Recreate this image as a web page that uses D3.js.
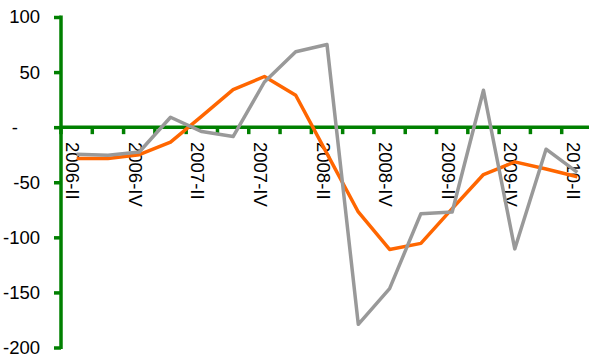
<!DOCTYPE html>
<html>
<head>
<meta charset="utf-8">
<script src="https://cdn.jsdelivr.net/npm/d3@7"></script>
<style>
  html, body { margin: 0; padding: 0; background: #fff; }
  svg { display: block; }
  text { font-family: "Liberation Sans", Arial, sans-serif; fill: #000; }
</style>
</head>
<body>
<svg id="chart" width="589" height="357"></svg>
<script>
// ---- data ----
const categories = ["2006-II","2006-III","2006-IV","2007-I","2007-II","2007-III","2007-IV",
  "2008-I","2008-II","2008-III","2008-IV","2009-I","2009-II","2009-III","2009-IV","2010-I","2010-II"];
const seriesOrange = [-28.5, -28.5, -25, -13.5, 10, 34, 46, 29, -24, -77, -111, -105.5, -74, -43, -31.5, -38, -45];
const seriesGray = [-24.5, -25.5, -22.5, 9, -4, -8.5, 41, 68.5, 75, -179, -146.5, -78.5, -77, 33.5, -110.5, -20, -41];
const yTicks = [100, 50, 0, -50, -100, -150, -200];
const labeledCategories = categories.filter((d, i) => i % 2 === 0);

// ---- layout ----
const svg = d3.select("#chart");
const green = "#008000";
const x = d3.scaleBand().domain(categories).range([61, 593]).padding(0);
const y = d3.scaleLinear().domain([-200, 100]).range([347.5, 17]);
const cx = d => x(d) + x.bandwidth() / 2;

// y axis
const yAxis = svg.append("g").attr("transform", "translate(61,0)")
  .call(d3.axisLeft(y).tickValues(yTicks).tickSize(7).tickPadding(14)
    .tickFormat(d => d === 0 ? "-" : d));
yAxis.select(".domain").remove();
yAxis.selectAll(".tick line").attr("stroke", green).attr("stroke-width", 3.5);
yAxis.selectAll(".tick text").style("font-size", "18.5px").attr("fill", "#000");
yAxis.selectAll(".tick").filter(d => d === 0).select("text").attr("x", -43);
svg.append("line").attr("x1", 61).attr("x2", 61).attr("y1", y(100) - 1.5).attr("y2", y(-200) + 1.5)
  .attr("stroke", green).attr("stroke-width", 3.5);

// x axis line at 0 with ticks at category boundaries
const xAxisG = svg.append("g");
xAxisG.append("line").attr("x1", 61).attr("x2", 593).attr("y1", y(0)).attr("y2", y(0))
  .attr("stroke", green).attr("stroke-width", 3.5);
const boundaries = categories.map(d => x(d)).concat([x(categories[categories.length - 1]) + x.bandwidth()]);
xAxisG.selectAll("line.tk").data(boundaries).join("line").attr("class", "tk")
  .attr("x1", d => d).attr("x2", d => d).attr("y1", y(0)).attr("y2", y(0) + 7)
  .attr("stroke", green).attr("stroke-width", 3.5);

// category labels (rotated)
svg.append("g").selectAll("text").data(labeledCategories).join("text")
  .attr("transform", d => `translate(${cx(d)},142) rotate(90)`)
  .attr("dy", "0.56em")
  .style("font-size", "18.5px")
  .text(d => d);

// lines
const line = d3.line().x((d, i) => cx(categories[i])).y(d => y(d));
svg.append("path").datum(seriesOrange).attr("d", line)
  .attr("fill", "none").attr("stroke", "#FF6600").attr("stroke-width", 3.5).attr("stroke-linejoin", "round");
svg.append("path").datum(seriesGray).attr("d", line)
  .attr("fill", "none").attr("stroke", "#999999").attr("stroke-width", 3.5).attr("stroke-linejoin", "round");
</script>
</body>
</html>
